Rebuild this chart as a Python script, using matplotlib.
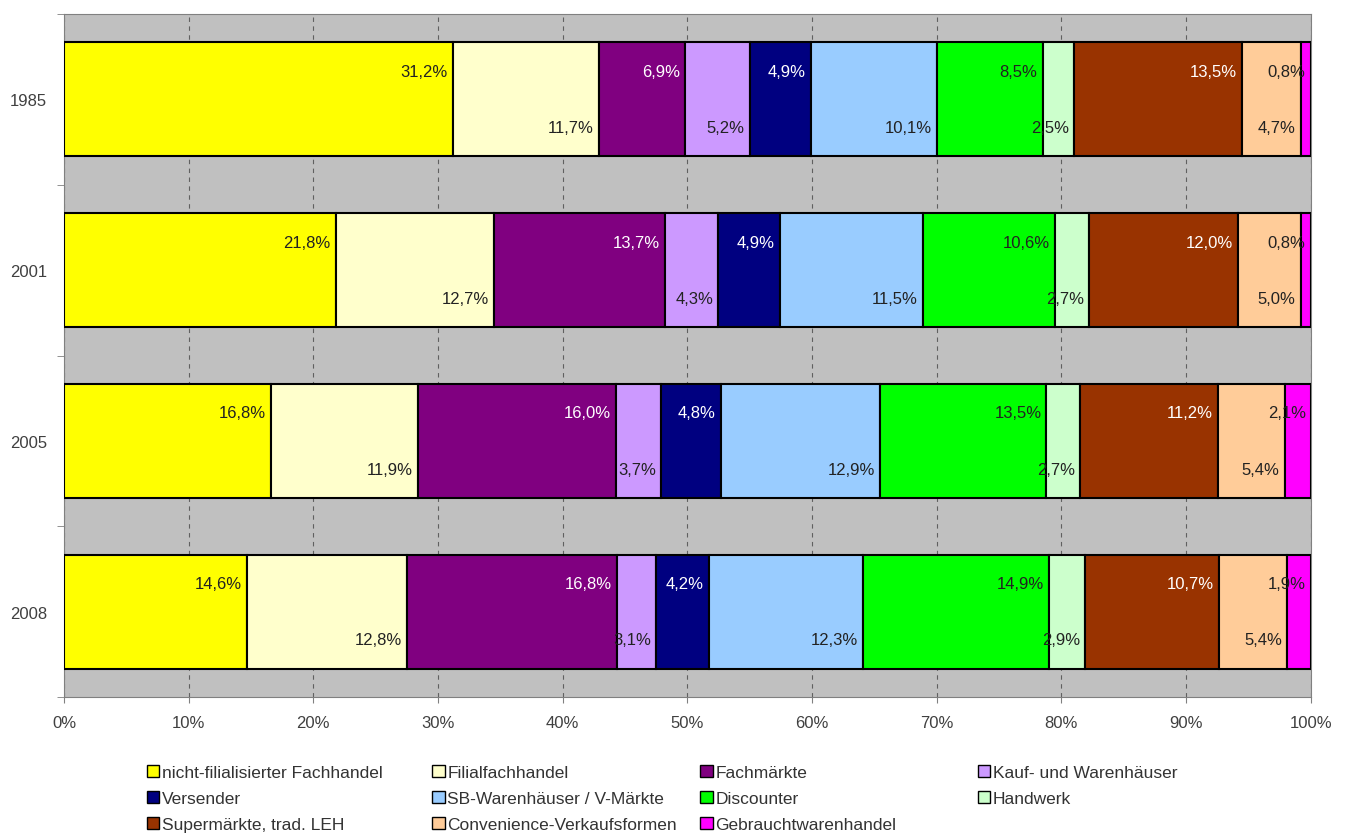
import numpy as np
import matplotlib
matplotlib.use("Agg")
import matplotlib.pyplot as plt
from matplotlib.patches import Patch

plt.rcParams["font.family"] = ["Liberation Sans", "DejaVu Sans"]

# data
years = ["1985", "2001", "2005", "2008"]
categories = [
    "nicht-filialisierter Fachhandel", "Filialfachhandel", "Fachmärkte",
    "Kauf- und Warenhäuser", "Versender", "SB-Warenhäuser / V-Märkte",
    "Discounter", "Handwerk", "Supermärkte, trad. LEH",
    "Convenience-Verkaufsformen", "Gebrauchtwarenhandel",
]
v1985 = [31.2, 11.7, 6.9, 5.2, 4.9, 10.1, 8.5, 2.5, 13.5, 4.7, 0.8]
v2001 = [21.8, 12.7, 13.7, 4.3, 4.9, 11.5, 10.6, 2.7, 12.0, 5.0, 0.8]
v2005 = [16.8, 11.9, 16.0, 3.7, 4.8, 12.9, 13.5, 2.7, 11.2, 5.4, 2.1]
v2008 = [14.6, 12.8, 16.8, 3.1, 4.2, 12.3, 14.9, 2.9, 10.7, 5.4, 1.9]

colors = ["#ffff00", "#ffffcc", "#800080", "#cc99ff", "#000080", "#99ccff",
          "#00ff00", "#ccffcc", "#993300", "#ffcc99", "#ff00ff"]
dark = {2, 4, 8}  # segments with white labels

values = np.array([v1985, v2001, v2005, v2008])
shares = values / values.sum(axis=1, keepdims=True) * 100  # 100% stacked

fig = plt.figure(figsize=(13.47, 8.37), dpi=100)
ax = fig.add_axes([0.0475, 0.166, 0.9255, 0.816])
ax.set_facecolor("#c0c0c0")

y = np.arange(len(years))
left = np.zeros(len(years))
for j, cat in enumerate(categories):
    ax.barh(y, shares[:, j], left=left, height=0.667, color=colors[j],
            edgecolor="black", linewidth=1.5, zorder=3)
    right = left + shares[:, j]
    for i in range(len(years)):
        dy = -0.165 if j % 2 == 0 else 0.165
        txt = f"{values[i, j]:.1f}%".replace(".", ",")
        ax.text(right[i] - 0.4, y[i] + dy, txt, ha="right", va="center",
                fontsize=12, color="white" if j in dark else "#222222",
                zorder=4)
    left = right

ax.set_xlim(0, 100)
ax.set_ylim(3.5, -0.5)
ax.set_xticks(np.arange(0, 101, 10))
ax.set_xticklabels([f"{t}%" for t in range(0, 101, 10)], fontsize=12, color="#404040")
ax.set_yticks(y)
ax.set_yticklabels(years, fontsize=12, color="#404040")
ax.tick_params(axis="y", length=0, pad=12)
ax.set_yticks([-0.5, 0.5, 1.5, 2.5, 3.5], minor=True)
ax.tick_params(axis="y", which="minor", length=5, color="#808080")
ax.tick_params(axis="x", length=4, color="#808080", pad=9)
ax.grid(axis="x", linestyle=(0, (4, 4)), color="#606060", linewidth=0.8, zorder=1)
ax.set_axisbelow(True)
for s in ax.spines.values():
    s.set_color("#808080")

# legend: four columns, filled row by row like the original
col_x = [0.109, 0.321, 0.520, 0.726]
for c, x0 in enumerate(col_x):
    idx = list(range(c, len(categories), 4))
    handles = [Patch(facecolor=colors[k], edgecolor="black", label=categories[k]) for k in idx]
    fig.legend(handles=handles, loc="upper left", bbox_to_anchor=(x0, 0.085),
               frameon=False, fontsize=12.5, handlelength=0.7, handleheight=0.7,
               handletextpad=0.15, labelspacing=0.62, borderpad=0,
               borderaxespad=0, labelcolor="#333333")

fig.savefig("out.png", dpi=100)
